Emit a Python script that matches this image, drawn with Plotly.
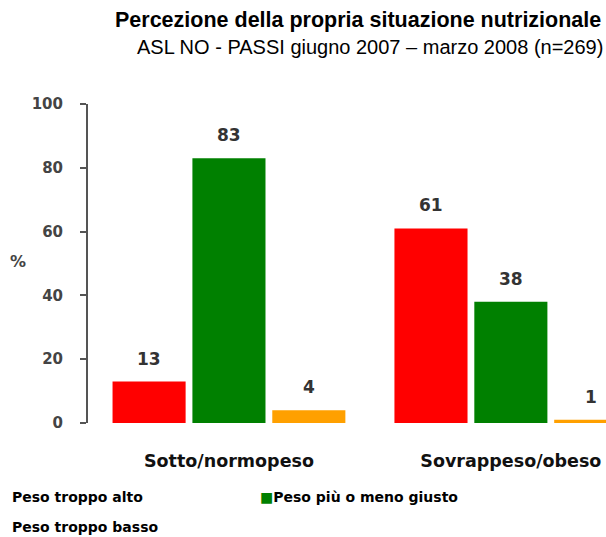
import plotly.graph_objects as go

categories = ["Sotto/normopeso", "Sovrappeso/obeso"]
series_names = ["Peso troppo alto", "Peso più o meno giusto", "Peso troppo basso"]
series_values = [
    [13, 61],
    [83, 38],
    [4, 1],
]
colors = ["#FF0000", "#008000", "#FFA000"]
y_ticks = [0, 20, 40, 60, 80, 100]

title = "Percezione della propria situazione nutrizionale"
subtitle = "ASL NO - PASSI giugno 2007 – marzo 2008 (n=269)"

FONT = "Liberation Sans, Arial, sans-serif"
BFONT = "DejaVu Sans, sans-serif"
x_pos = list(range(len(categories)))

fig = go.Figure()
for name, vals, col in zip(series_names, series_values, colors):
    fig.add_trace(go.Bar(x=x_pos, y=vals, name=name, marker_color=col,
                         marker_line_width=0, showlegend=False, hoverinfo="skip"))

bargap = 0.15
n = len(series_names)
slot = (1 - bargap) / n
for i, vals in enumerate(series_values):
    for j, v in enumerate(vals):
        fig.add_annotation(x=j + (i - (n - 1) / 2) * slot, y=v, text=f"<b>{v}</b>",
                           showarrow=False, yanchor="bottom", yshift=11,
                           font=dict(family=BFONT, size=17, color="#333333"))

fig.update_layout(
    width=606, height=537,
    margin=dict(l=88, r=0, t=104, b=114),
    paper_bgcolor="white", plot_bgcolor="white",
    barmode="group", bargap=bargap, bargroupgap=0.085,
    font=dict(family=FONT),
)
fig.update_xaxes(range=[-0.5, 1.3375], tickvals=x_pos,
                 ticktext=[f"<b>{c}</b>" for c in categories],
                 tickfont=dict(family=BFONT, size=17.5, color="#111111"),
                 showline=False, showgrid=False, ticks="", ticklabelstandoff=25,
                 zeroline=False)
fig.update_yaxes(range=[0, 100], tickvals=y_ticks,
                 ticktext=[f"<b>{t}</b>" for t in y_ticks],
                 tickfont=dict(family=BFONT, size=15, color="#444444"),
                 showline=True, linecolor="#555555", linewidth=2,
                 ticks="outside", ticklen=6, tickwidth=2, tickcolor="#555555",
                 ticklabelstandoff=14,
                 showgrid=False, zeroline=False)

# axis label
fig.add_annotation(xref="paper", yref="paper", x=-70/518, y=0.5, yshift=2, text="<b>%</b>",
                   showarrow=False, xanchor="center", yanchor="middle",
                   font=dict(family=BFONT, size=16, color="#444444"))

# titles
fig.add_annotation(xref="paper", yref="paper", x=1.0, y=1.0, yshift=84, xshift=-3,
                   text=f"<b>{title}</b>", showarrow=False, xanchor="right", yanchor="middle",
                   font=dict(family=FONT, size=21.5, color="#000000"))
fig.add_annotation(xref="paper", yref="paper", x=1.0, y=1.0, yshift=57, xshift=-1,
                   text=subtitle, showarrow=False, xanchor="right", yanchor="middle",
                   font=dict(family=FONT, size=20, color="#000000"))

# legend drawn as text
leg_font = dict(family=BFONT, size=14, color="#000000")
fig.add_annotation(xref="paper", yref="paper", x=-88/518, y=0, yshift=-74,
                   xshift=10, text=f"<b>{series_names[0]}</b>", showarrow=False,
                   xanchor="left", yanchor="middle", font=leg_font)
fig.add_annotation(xref="paper", yref="paper", x=(258-88)/518, y=0, yshift=-74,
                   text=f"<span style='color:{colors[1]}'>■</span><b>{series_names[1]}</b>",
                   showarrow=False, xanchor="left", yanchor="middle", font=leg_font)
fig.add_annotation(xref="paper", yref="paper", x=-88/518, y=0, yshift=-104,
                   xshift=10, text=f"<b>{series_names[2]}</b>", showarrow=False,
                   xanchor="left", yanchor="middle", font=leg_font)

fig.write_html("out.html", config={"displayModeBar": False},
               post_script="document.body.style.margin='0';document.body.style.overflow='hidden';")
